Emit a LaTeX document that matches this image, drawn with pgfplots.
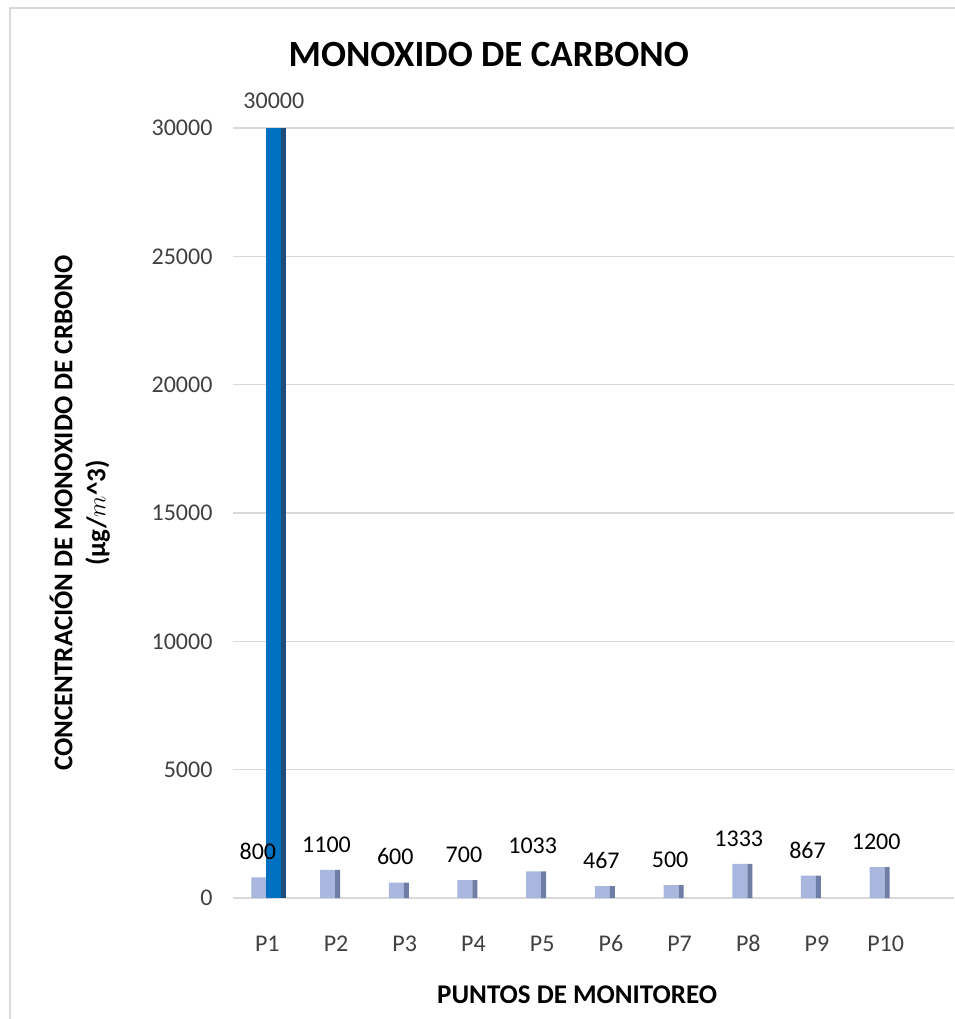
\documentclass[border=0pt]{standalone}
\usepackage{pgfplots}
\pgfplotsset{compat=1.18}
\usepackage{fontspec}
\setmainfont{Carlito}

\definecolor{lightbar}{HTML}{A9B7DF}
\definecolor{lightside}{HTML}{6E7EA6}
\definecolor{bluebar}{HTML}{0070C0}
\definecolor{blueside}{HTML}{1F4E79}
\definecolor{gridgray}{HTML}{D9D9D9}
\definecolor{labelgray}{HTML}{404040}

\begin{document}
\begin{tikzpicture}
\begin{axis}[
    scale only axis,
    width=721.4pt, height=770pt,
    xmin=-0.5, xmax=10,
    ymin=0, ymax=30000,
    xtick={0,1,2,3,4,5,6,7,8,9},
    xticklabels={P1,P2,P3,P4,P5,P6,P7,P8,P9,P10},
    ytick={0,5000,10000,15000,20000,25000,30000},
    scaled y ticks=false,
    /pgf/number format/1000 sep={},
    /pgf/number format/assume math mode=true,
    ymajorgrids=true,
    grid style={gridgray, line width=1.2pt},
    axis line style={draw=none},
    major tick length=0pt,
    ticklabel style={font=\fontsize{24}{28}\selectfont, text=labelgray},
    yticklabel style={xshift=-17pt},
    xticklabel style={yshift=-34pt, text height=16pt, text depth=0pt},
    clip=false,
]
% front faces, light series
\addplot[ybar, bar width=15pt, bar shift=-8.5pt, fill=lightbar, draw=none,
    nodes near coords, point meta=explicit symbolic,
    every node near coord/.style={font=\fontsize{24}{28}\selectfont, text=black, anchor=south, xshift=-9.5pt, yshift=14pt}]
    coordinates {(0,800)[800] (1,1100)[1100] (2,600)[600] (3,700)[700] (4,1033)[1033]
                 (5,467)[467] (6,500)[500] (7,1333)[1333] (8,867)[867] (9,1200)[1200]};
% side faces, light series
\addplot[ybar, bar width=5pt, bar shift=1.5pt, fill=lightside, draw=none]
    coordinates {(0,800) (1,1100) (2,600) (3,700) (4,1033)
                 (5,467) (6,500) (7,1333) (8,867) (9,1200)};
% blue series
\addplot[ybar, bar width=15pt, bar shift=6.5pt, fill=bluebar, draw=none,
    nodes near coords, point meta=explicit symbolic,
    every node near coord/.style={font=\fontsize{24}{28}\selectfont, text=labelgray, anchor=south, xshift=6.5pt, yshift=16pt}]
    coordinates {(0,30000)[30000]};
\addplot[ybar, bar width=5pt, bar shift=16.5pt, fill=blueside, draw=none]
    coordinates {(0,30000)};

\node[font=\bfseries\fontsize{37}{44}\selectfont] at (rel axis cs:0.3546,1.0948) {MONOXIDO DE CARBONO};
\node[font=\bfseries\fontsize{27}{33}\selectfont, rotate=90, align=center] at (rel axis cs:-0.2125,0.5)
    {CONCENTRACIÓN DE MONOXIDO DE CRBONO\\(µg/$m$\textasciicircum 3)};
\node[font=\bfseries\fontsize{27}{32}\selectfont] at (rel axis cs:0.477,-0.1260) {PUNTOS DE MONITOREO};
\end{axis}
\pgfresetboundingbox
\path[use as bounding box] ([shift={(-233pt,-121pt)}]current axis.south west) rectangle ([shift={(0pt,128pt)}]current axis.north east);
\draw[black!15, line width=1.5pt] ([shift={(-223pt,-140pt)}]current axis.south west) |- ([shift={(20pt,120pt)}]current axis.north east);
\end{tikzpicture}
\end{document}
